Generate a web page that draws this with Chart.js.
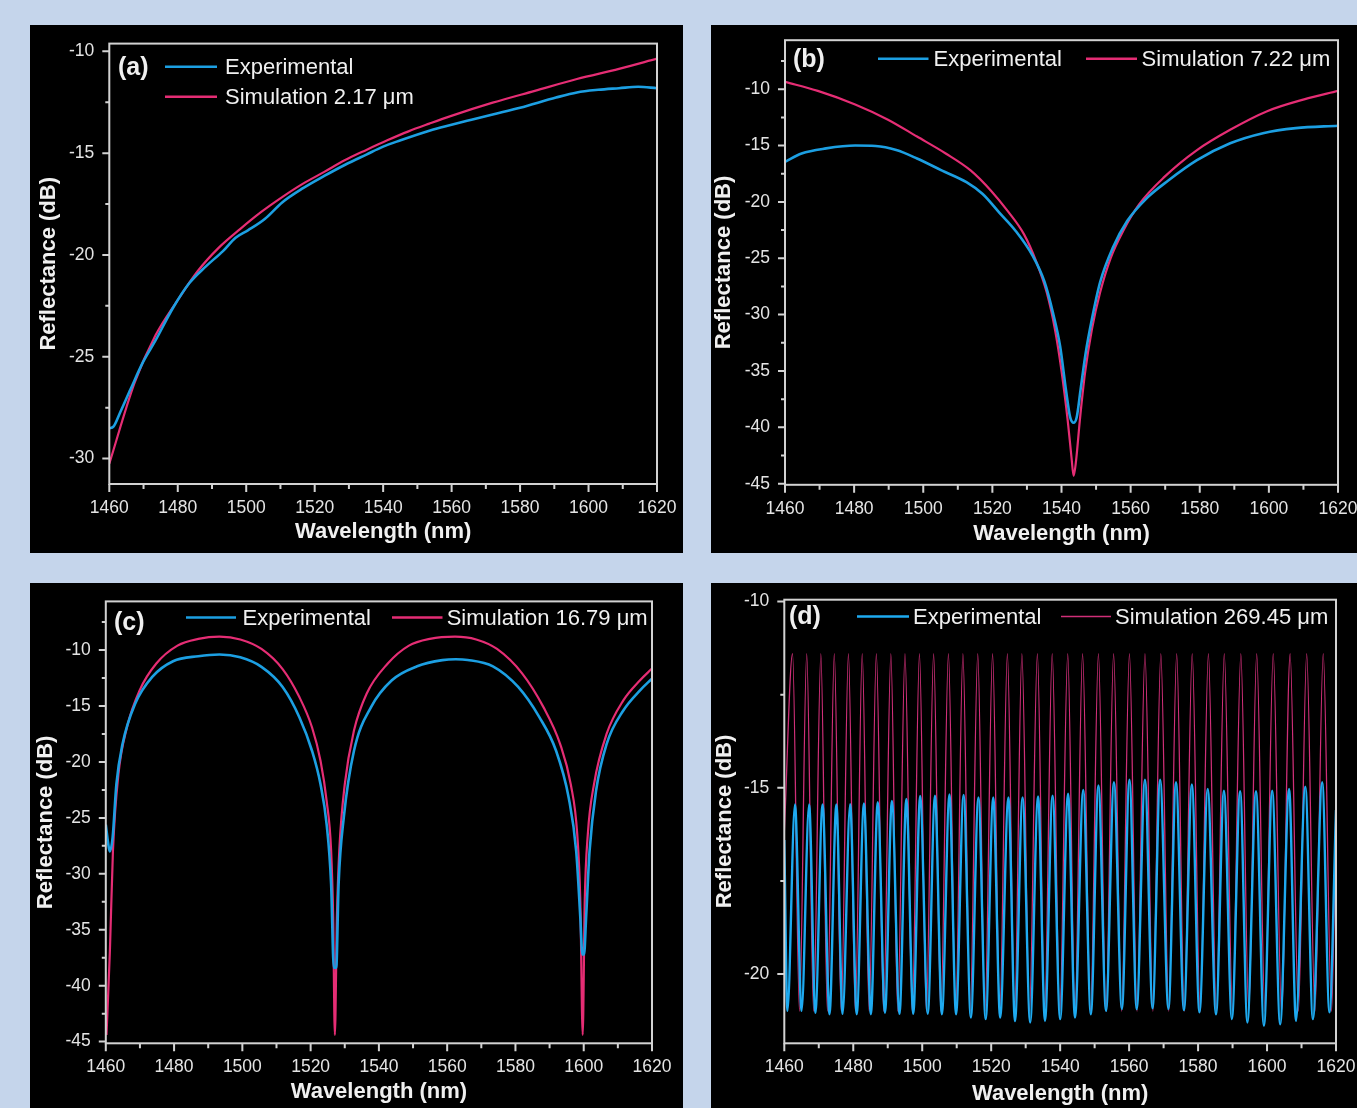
<!DOCTYPE html>
<html>
<head>
<meta charset="utf-8">
<title>Reflectance spectra</title>
<script src="https://cdn.jsdelivr.net/npm/chart.js"></script>
<style>
  html, body { margin: 0; padding: 0; background: #c5d5eb; }
  body { width: 1357px; height: 1108px; position: relative; overflow: hidden; }
  .panel { position: absolute; background: #000; }
  .panel canvas { display: block; }
</style>
</head>
<body>
<div class="panel" style="left:30px;top:25px;width:653px;height:528px"><canvas id="pa" width="653" height="528"></canvas></div>
<div class="panel" style="left:711px;top:25px;width:646px;height:528px"><canvas id="pb" width="646" height="528"></canvas></div>
<div class="panel" style="left:30px;top:583px;width:653px;height:525px"><canvas id="pc" width="653" height="525"></canvas></div>
<div class="panel" style="left:711px;top:583px;width:646px;height:525px"><canvas id="pd" width="646" height="525"></canvas></div>
<script>
// ---- data (wavelength in nm, reflectance in dB) ----

// (a) 2.17 um
const aExpNm = [1460, 1461.2, 1463.1, 1466.2, 1469.8, 1473.5, 1478.5, 1483.4, 1488.3, 1493.2, 1496.9, 1500.6, 1505.5, 1510.5, 1516.6, 1522.8, 1528.9, 1535.1, 1540.0, 1544.9, 1553.5, 1559.7, 1565.8, 1572.0, 1580.0, 1590.5, 1596.6, 1602.8, 1608.9, 1614.5, 1620];
const aExpDb = [-28.51, -28.43, -27.76, -26.6, -25.28, -24.2, -22.63, -21.38, -20.55, -19.81, -19.15, -18.78, -18.22, -17.42, -16.72, -16.12, -15.57, -15.07, -14.68, -14.38, -13.9, -13.62, -13.36, -13.1, -12.77, -12.27, -12.02, -11.89, -11.81, -11.74, -11.81];
const aSimNm = [1460, 1467.4, 1473.5, 1479.7, 1485.8, 1492.0, 1498.2, 1504.3, 1510.5, 1516.6, 1522.8, 1528.9, 1535.1, 1541.2, 1547.4, 1553.5, 1559.7, 1572.0, 1584.3, 1596.6, 1608.9, 1620];
const aSimDb = [-30.25, -26.27, -23.95, -22.29, -20.8, -19.64, -18.73, -17.9, -17.16, -16.5, -15.92, -15.34, -14.84, -14.37, -13.93, -13.55, -13.18, -12.52, -11.94, -11.36, -10.86, -10.36];

// (b) 7.22 um
const bExpNm = [1460, 1464.8, 1471.9, 1480.3, 1486.2, 1492.2, 1498.2, 1505.3, 1512.5, 1517.2, 1522.0, 1526.8, 1531.5, 1535.1, 1537.5, 1539.6, 1541.3, 1542.5, 1543.5, 1544.4, 1545.5, 1547.0, 1548.8, 1551.2, 1554.8, 1559.0, 1564.9, 1570.9, 1579.2, 1588.8, 1598.3, 1607.8, 1620];
const bExpDb = [-16.45, -15.7, -15.25, -15.0, -15.04, -15.4, -16.15, -17.2, -18.25, -19.3, -20.95, -22.6, -24.7, -27.1, -29.8, -32.8, -36.7, -39.1, -39.6, -39.1, -36.7, -33.4, -30.4, -27.1, -24.1, -21.7, -19.6, -18.1, -16.3, -14.8, -13.9, -13.45, -13.24];
const bSimNm = [1460, 1469.5, 1480.3, 1489.8, 1498.2, 1506.5, 1513.7, 1519.6, 1524.4, 1529.2, 1532.7, 1535.7, 1538.1, 1540.1, 1541.8, 1542.9, 1543.5, 1544.2, 1545.3, 1546.8, 1548.8, 1551.2, 1554.2, 1557.8, 1562.5, 1569.7, 1579.2, 1588.8, 1599.5, 1610.2, 1620];
const bSimDb = [-9.34, -10.15, -11.35, -12.7, -14.2, -15.7, -17.2, -19.0, -20.8, -22.9, -25.3, -28.0, -31.3, -35.2, -39.4, -42.7, -44.3, -43.0, -39.4, -35.2, -31.3, -28.0, -25.0, -22.6, -20.2, -17.8, -15.4, -13.6, -11.95, -10.9, -10.15];

// (c) 16.79 um
const cExpNm = [1460, 1460.9, 1461.2, 1462.0, 1463.1, 1464.9, 1468.6, 1473.6, 1479.7, 1487.1, 1493.3, 1499.4, 1505.6, 1511.8, 1516.7, 1520.4, 1522.9, 1524.7, 1526.0, 1526.8, 1527.5, 1528.2, 1529.7, 1532.7, 1537.7, 1543.8, 1551.2, 1558.6, 1562.5, 1566.0, 1573.4, 1580.8, 1587.0, 1591.9, 1595.6, 1597.8, 1599.0, 1599.6, 1600.1, 1600.7, 1601.7, 1603.6, 1606.7, 1611.6, 1616.5, 1620];
const cExpDb = [-25.6, -27.7, -28.0, -26.75, -22.0, -18.4, -14.8, -12.4, -11.0, -10.55, -10.4, -10.65, -11.5, -13.3, -16.0, -19.0, -22.0, -25.6, -30.9, -38.4, -38.4, -30.9, -25.0, -19.0, -15.1, -12.7, -11.45, -10.9, -10.82, -10.88, -11.45, -13.3, -16.0, -19.0, -23.2, -28.0, -33.9, -37.2, -37.2, -33.9, -28.0, -22.6, -18.4, -15.4, -13.6, -12.55];
const cSimNm = [1460.2, 1461.2, 1462.1, 1463.7, 1466.2, 1469.9, 1474.8, 1481.0, 1487.1, 1493.3, 1499.4, 1505.6, 1511.8, 1516.7, 1520.4, 1522.9, 1524.7, 1526.0, 1526.6, 1527.1, 1527.7, 1528.4, 1530.0, 1532.7, 1536.4, 1542.6, 1548.8, 1554.9, 1562.3, 1568.5, 1574.6, 1582.0, 1588.2, 1593.1, 1596.2, 1598.1, 1599.0, 1599.7, 1600.3, 1601.2, 1603.0, 1606.7, 1611.6, 1616.5, 1620];
const cSimDb = [-44.4, -36.9, -27.9, -21.1, -16.9, -13.6, -11.2, -9.6, -9.0, -8.8, -9.05, -9.9, -11.7, -14.2, -16.9, -19.9, -23.5, -27.9, -33.9, -44.4, -33.9, -27.9, -22.0, -17.2, -13.9, -11.2, -9.6, -9.0, -8.8, -9.05, -9.9, -12.1, -15.1, -18.4, -22.0, -26.45, -32.4, -44.4, -32.4, -26.45, -22.0, -17.5, -14.5, -12.7, -11.65];

// (d) 269.45 um: fringe peaks and dips, plus the two end points
const dExpEndNm = [1460, 1620];
const dExpEndDb = [-16.4, -15.6];
const dExpPeakNm = [1463.1, 1467.2, 1471.1, 1475.1, 1479.1, 1483.1, 1487.1, 1491.2, 1495.4, 1499.4, 1503.7, 1507.9, 1512.0, 1516.3, 1520.6, 1525.0, 1529.1, 1533.6, 1537.8, 1542.3, 1546.7, 1551.1, 1555.6, 1560.1, 1564.6, 1569.0, 1573.6, 1578.2, 1582.8, 1587.5, 1592.2, 1596.8, 1601.5, 1606.4, 1611.1, 1616.0];
const dExpPeakDb = [-15.45, -15.45, -15.45, -15.45, -15.44, -15.42, -15.39, -15.35, -15.30, -15.22, -15.21, -15.18, -15.19, -15.26, -15.26, -15.26, -15.26, -15.23, -15.21, -15.16, -15.06, -14.94, -14.85, -14.78, -14.78, -14.78, -14.85, -14.91, -15.03, -15.08, -15.09, -15.09, -15.08, -15.03, -14.97, -14.85];
const dExpDipNm = [1460.9, 1465.0, 1469.0, 1473.1, 1476.9, 1481.0, 1485.1, 1489.2, 1493.4, 1497.4, 1501.6, 1505.7, 1509.8, 1514.1, 1518.4, 1522.6, 1526.9, 1531.3, 1535.6, 1540.0, 1544.3, 1548.9, 1553.3, 1557.9, 1562.2, 1566.8, 1571.4, 1575.9, 1580.4, 1585.2, 1589.8, 1594.3, 1599.1, 1603.8, 1608.4, 1613.3, 1618.1];
const dExpDipDb = [-20.99, -20.99, -21.04, -21.08, -21.07, -21.08, -21.08, -21.04, -21.07, -21.07, -21.07, -21.08, -21.08, -21.17, -21.21, -21.17, -21.26, -21.3, -21.26, -21.21, -21.17, -21.08, -20.99, -20.94, -20.94, -20.92, -20.94, -20.97, -21.03, -21.08, -21.21, -21.3, -21.39, -21.35, -21.26, -21.21, -21.03];
const dSimEndNm = [1460, 1620];
const dSimEndDb = [-16.2, -15.4];
const dSimPeakNm = [1462.4, 1466.5, 1470.6, 1474.5, 1478.6, 1482.6, 1486.7, 1490.9, 1495.0, 1499.2, 1503.3, 1507.6, 1511.8, 1516.1, 1520.4, 1524.7, 1528.9, 1533.4, 1537.7, 1542.2, 1546.5, 1551.1, 1555.5, 1560.1, 1564.6, 1569.2, 1573.8, 1578.3, 1583.0, 1587.6, 1592.4, 1597.0, 1601.8, 1606.7, 1611.5, 1616.3];
const dSimPeakDb = [-11.4, -11.4, -11.4, -11.4, -11.4, -11.4, -11.4, -11.4, -11.4, -11.4, -11.4, -11.4, -11.4, -11.4, -11.4, -11.4, -11.4, -11.4, -11.4, -11.4, -11.4, -11.4, -11.4, -11.4, -11.4, -11.4, -11.4, -11.4, -11.4, -11.4, -11.4, -11.4, -11.4, -11.4, -11.4, -11.4];
const dSimDipNm = [1464.4, 1468.5, 1472.5, 1476.5, 1480.6, 1484.6, 1488.8, 1492.9, 1497.1, 1501.2, 1505.4, 1509.7, 1513.9, 1518.2, 1522.5, 1526.8, 1531.1, 1535.5, 1539.9, 1544.3, 1548.8, 1553.3, 1557.8, 1562.3, 1566.9, 1571.5, 1576.0, 1580.6, 1585.3, 1590.0, 1594.7, 1599.4, 1604.2, 1609.1, 1613.9, 1618.7];
const dSimDipDb = [-21.0, -21.0, -21.0, -21.0, -21.0, -21.0, -21.0, -21.0, -21.0, -21.0, -21.0, -21.0, -21.0, -21.0, -21.0, -21.0, -21.0, -21.0, -21.0, -21.0, -21.0, -21.0, -21.0, -21.0, -21.0, -21.0, -21.0, -21.0, -21.0, -21.0, -21.0, -21.0, -21.0, -21.0, -21.0, -21.0];

const wlTicks = [1460, 1480, 1500, 1520, 1540, 1560, 1580, 1600, 1620];

// ---- styling ----
const FONT = '"Liberation Sans", Arial, Helvetica, sans-serif';
const BLUE = '#1c9fe2';
const PINK = '#e52d74';
const FRAME = '#d2d2d2';
const TICK_TXT = '#e4e4e4';
const TITLE_TXT = '#f0f0f0';

function pts(xs, ys) {
  return xs.map((x, i) => ({ x: x, y: ys[i] }));
}
function merged(...pairs) {
  let out = [];
  for (let i = 0; i < pairs.length; i += 2) out = out.concat(pts(pairs[i], pairs[i + 1]));
  return out.sort((p, q) => p.x - q.x);
}

// frame box, outward major/minor tick marks, "(a)" label and in-plot legend
const panelDecor = {
  id: 'panelDecor',
  afterDatasetsDraw(chart, args, o) {
    const { ctx, chartArea: a, scales: { x, y } } = chart;
    ctx.save();
    ctx.strokeStyle = FRAME;
    ctx.lineWidth = 2;
    ctx.strokeRect(a.left, a.top, a.right - a.left, a.bottom - a.top);

    ctx.beginPath();
    const n0 = Math.ceil(y.min / o.yMinor - 1e-6), n1 = Math.floor(y.max / o.yMinor + 1e-6);
    for (let n = n0; n <= n1; n++) {
      const v = n * o.yMinor;
      const py = y.getPixelForValue(v);
      const major = Math.abs(v / o.yMajor - Math.round(v / o.yMajor)) < 1e-6;
      ctx.moveTo(a.left, py);
      ctx.lineTo(a.left - (major ? 7 : 4), py);
    }
    for (let v = 1460; v <= 1620; v += 10) {
      const px = x.getPixelForValue(v);
      ctx.moveTo(px, a.bottom);
      ctx.lineTo(px, a.bottom + (v % 20 === 0 ? 8 : 5));
    }
    ctx.stroke();

    ctx.fillStyle = TITLE_TXT;
    ctx.textBaseline = 'middle';
    ctx.textAlign = 'left';
    ctx.font = 'bold 25px ' + FONT;
    ctx.fillText(o.tag, o.tagX, o.tagY);

    ctx.font = '22px ' + FONT;
    o.items.forEach(it => {
      ctx.strokeStyle = it.color;
      ctx.lineWidth = it.width;
      ctx.beginPath();
      ctx.moveTo(it.x1, it.y);
      ctx.lineTo(it.x2, it.y);
      ctx.stroke();
      ctx.fillStyle = TITLE_TXT;
      ctx.fillText(it.text, it.tx, it.y + 1);
    });
    ctx.restore();
  }
};

function noPad(s) {
  s.paddingLeft = 0; s.paddingRight = 0; s.paddingTop = 0; s.paddingBottom = 0;
}

function makePanel(id, L, exp, sim, expStyle, simStyle) {
  const canvas = document.getElementById(id);
  const chart = new Chart(canvas, {
    type: 'line',
    data: {
      datasets: [
        { label: 'Experimental', data: exp, borderColor: expStyle.color, borderWidth: expStyle.width,
          pointRadius: 0, cubicInterpolationMode: 'monotone', fill: false },
        { label: L.simText, data: sim, borderColor: simStyle.color, borderWidth: simStyle.width,
          pointRadius: 0, cubicInterpolationMode: 'monotone', fill: false }
      ]
    },
    options: {
      responsive: false,
      animation: false,
      events: [],
      layout: { padding: { left: 0, top: L.top, right: L.right, bottom: 0 } },
      plugins: {
        legend: { display: false },
        tooltip: { enabled: false },
        panelDecor: {
          yMajor: 5, yMinor: 2.5, tag: L.tag, tagX: L.tagX, tagY: L.tagY,
          items: [
            { color: expStyle.color, width: 2.5, x1: L.leg[0][0], x2: L.leg[0][1], y: L.leg[0][2], tx: L.leg[0][3], text: 'Experimental' },
            { color: simStyle.color, width: simStyle.legWidth, x1: L.leg[1][0], x2: L.leg[1][1], y: L.leg[1][2], tx: L.leg[1][3], text: L.simText }
          ]
        }
      },
      scales: {
        x: {
          type: 'linear', min: 1460, max: 1620,
          grid: { display: false, drawTicks: false }, border: { display: false },
          afterBuildTicks: s => { s.ticks = wlTicks.map(v => ({ value: v })); },
          ticks: { autoSkip: false, maxRotation: 0, padding: L.xPad, color: TICK_TXT,
                   font: { family: FONT, size: 17.5 }, callback: v => String(v) },
          title: { display: true, text: 'Wavelength (nm)', color: TITLE_TXT,
                   font: { family: FONT, size: 22, weight: 'bold' }, padding: { top: 0, bottom: L.xTitlePad } },
          afterFit: s => { s.height = L.xH; noPad(s); }
        },
        y: {
          type: 'linear', min: L.yMin, max: L.yMax,
          grid: { display: false, drawTicks: false }, border: { display: false },
          ticks: { stepSize: 5, includeBounds: false, autoSkip: false, padding: 15, color: TICK_TXT,
                   font: { family: FONT, size: 17.5 }, callback: v => String(v) },
          title: { display: true, text: 'Reflectance (dB)', color: TITLE_TXT,
                   font: { family: FONT, size: 22, weight: 'bold' }, padding: { top: L.yTitlePad, bottom: 0 } },
          afterFit: s => { s.width = L.left; noPad(s); }
        }
      }
    },
    plugins: [panelDecor]
  });

  // nudge the layout padding so the plot frame lands where it sits in the figure
  const ca = chart.chartArea;
  const dTop = L.top - ca.top;
  const dRight = (canvas.width - L.right) - ca.right;
  if (Math.abs(dTop) > 0.3 || Math.abs(dRight) > 0.3) {
    chart.options.layout.padding.top = Math.max(0, L.top + dTop);
    chart.options.layout.padding.right = Math.max(0, L.right - dRight);
    chart.update();
  }
  return chart;
}

const thick = { color: BLUE, width: 2.6 };
const simThick = { color: PINK, width: 2.2, legWidth: 2.5 };

makePanel('pa', {
  top: 18.6, right: 26, left: 79.3, xH: 69, xPad: 14, xTitlePad: 7.8, yTitlePad: 5.8,
  yMin: -31.25, yMax: -9.62, tag: '(a)', tagX: 88, tagY: 43, simText: 'Simulation 2.17 \u03bcm',
  leg: [[135, 187, 41.7, 195], [135, 187, 71.7, 195]]
}, pts(aExpNm, aExpDb), pts(aSimNm, aSimDb), thick, simThick);

makePanel('pb', {
  top: 15.2, right: 19, left: 74, xH: 68.2, xPad: 14, xTitlePad: 6, yTitlePad: 0,
  yMin: -45.1, yMax: -5.65, tag: '(b)', tagX: 82, tagY: 35, simText: 'Simulation 7.22 \u03bcm',
  leg: [[167, 217.5, 33.8, 222.5], [375, 426, 33.8, 430.6]]
}, pts(bExpNm, bExpDb), pts(bSimNm, bSimDb), thick, simThick);

makePanel('pc', {
  top: 18.4, right: 31, left: 75.8, xH: 64.7, xPad: 13, xTitlePad: 2.9, yTitlePad: 2.8,
  yMin: -45.15, yMax: -5.65, tag: '(c)', tagX: 84, tagY: 40, simText: 'Simulation 16.79 \u03bcm',
  leg: [[156, 206, 34.5, 212.5], [362, 412.5, 34.5, 416.7]]
}, pts(cExpNm, cExpDb), pts(cSimNm, cSimDb), thick, simThick);

makePanel('pd', {
  top: 16.7, right: 21, left: 73.3, xH: 64.7, xPad: 13, xTitlePad: 1.3, yTitlePad: 1.2,
  yMin: -21.86, yMax: -9.95, tag: '(d)', tagX: 78, tagY: 34, simText: 'Simulation 269.45 \u03bcm',
  leg: [[146, 198, 33.5, 202], [350, 400, 33.5, 404]]
},
  merged(dExpEndNm, dExpEndDb, dExpPeakNm, dExpPeakDb, dExpDipNm, dExpDipDb),
  merged(dSimEndNm, dSimEndDb, dSimPeakNm, dSimPeakDb, dSimDipNm, dSimDipDb),
  { color: '#1eaaf0', width: 2.4 }, { color: '#cf2f78', width: 1.3, legWidth: 1.5 });
</script>
</body>
</html>
